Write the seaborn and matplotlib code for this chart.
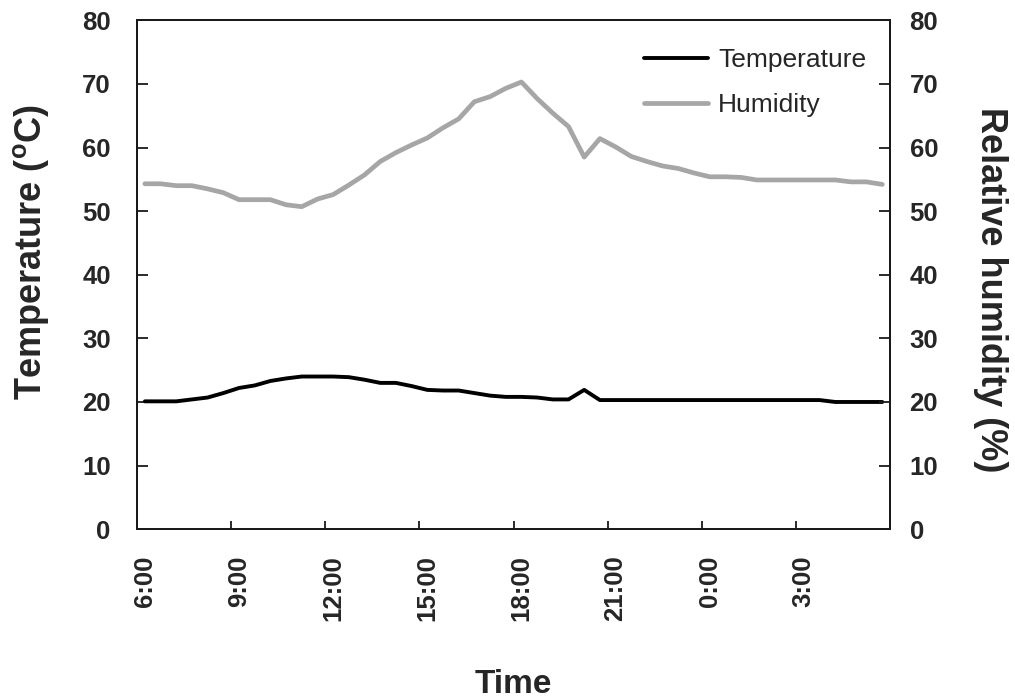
import numpy as np
import pandas as pd
import matplotlib
matplotlib.use("Agg")
import matplotlib.pyplot as plt
import seaborn as sns

# Half-hourly readings from 6:00 to 5:30 the next morning
times = [f"{(6 + i // 2) % 24}:{'00' if i % 2 == 0 else '30'}" for i in range(48)]

temperature = [20.1, 20.1, 20.1, 20.4, 20.7, 21.4, 22.2, 22.6, 23.3, 23.7,
               24.0, 24.0, 24.0, 23.9, 23.5, 23.0, 23.0, 22.5, 21.9, 21.8,
               21.8, 21.4, 21.0, 20.8, 20.8, 20.7, 20.4, 20.4, 21.9, 20.3,
               20.3, 20.3, 20.3, 20.3, 20.3, 20.3, 20.3, 20.3, 20.3, 20.3,
               20.3, 20.3, 20.3, 20.3, 20.0, 20.0, 20.0, 20.0]

humidity = [54.3, 54.3, 54.0, 54.0, 53.5, 52.9, 51.8, 51.8, 51.8, 51.0,
            50.7, 51.9, 52.6, 54.1, 55.7, 57.8, 59.2, 60.4, 61.5, 63.1,
            64.5, 67.2, 68.0, 69.3, 70.3, 67.7, 65.4, 63.3, 58.5, 61.4,
            60.1, 58.6, 57.8, 57.1, 56.7, 56.0, 55.4, 55.4, 55.3, 54.9,
            54.9, 54.9, 54.9, 54.9, 54.9, 54.6, 54.6, 54.2]

tick_labels = ["6:00", "9:00", "12:00", "15:00", "18:00", "21:00", "0:00", "3:00"]

df = pd.DataFrame({"idx": np.arange(len(times)), "time": times,
                   "Temperature": temperature, "Humidity": humidity})

sns.set_style("ticks")
plt.rcParams["font.family"] = ["Liberation Sans", "DejaVu Sans"]

fig = plt.figure(figsize=(10.15, 7.0), dpi=100)
ax = fig.add_axes([0.135, 0.244, 0.742, 0.727])
ax2 = ax.twinx()

sns.lineplot(data=df, x="idx", y="Temperature", ax=ax, color="black",
             linewidth=2.8, label="Temperature", legend=False)
sns.lineplot(data=df, x="idx", y="Humidity", ax=ax2, color="#a6a6a6",
             linewidth=3.4, label="Humidity", legend=False)

n = len(times)
for a in (ax, ax2):
    a.set_xlim(-0.5, n - 0.5)
    a.set_ylim(0, 80)
    a.set_yticks(np.arange(0, 81, 10))
    for s in a.spines.values():
        s.set_color("#1a1a1a")
        s.set_linewidth(1.4)

# Category-style axis: tick marks on boundaries, labels centred on categories
ax.set_xticks(np.arange(-0.5, n, 6))
ax.set_xticklabels([])
ax.set_xticks(np.arange(0, n, 6), minor=True)
ax.set_xticklabels(tick_labels, minor=True, rotation=90, fontsize=18.5,
                   fontweight="bold", va="top")
ax.tick_params(axis="x", which="major", direction="in", length=6, width=1.3,
               color="#1a1a1a")
ax.tick_params(axis="x", which="minor", length=0, pad=19)
ax.tick_params(axis="y", direction="in", length=8, width=1.3, pad=19,
               labelsize=18.5, color="#1a1a1a")
ax2.tick_params(axis="y", direction="in", length=8, width=1.3, pad=14,
                labelsize=18.5, color="#1a1a1a")
for lbl in ax.get_yticklabels() + ax2.get_yticklabels():
    lbl.set_fontweight("bold")

ax.set_xlabel("Time", fontsize=24, fontweight="bold", labelpad=34)
ax.set_ylabel("Temperature ($^{\\mathregular{o}}$C)", fontsize=26,
              fontweight="bold", va="center")
ax2.set_ylabel("Relative humidity (%)", fontsize=26, fontweight="bold",
               rotation=-90, va="center")
ax.yaxis.set_label_coords(-0.141, 0.545)
ax2.yaxis.set_label_coords(1.133, 0.47)

handles = ax.get_lines()[:1] + ax2.get_lines()[:1]
ax2.legend(handles, ["Temperature", "Humidity"], loc="upper right",
           bbox_to_anchor=(1.0, 0.992), frameon=False, fontsize=19,
           handlelength=2.4, labelspacing=0.8, handletextpad=0.4)

fig.savefig("out.png", dpi=100)
